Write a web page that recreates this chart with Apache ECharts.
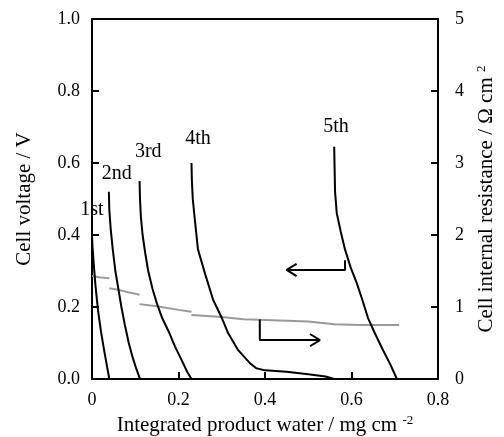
<!DOCTYPE html>
<html>
<head>
<meta charset="utf-8">
<script src="https://cdn.jsdelivr.net/npm/echarts@6/dist/echarts.min.js"></script>
<style>
  html, body { margin: 0; padding: 0; background: #fff; }
  #main { width: 504px; height: 437px; }
</style>
</head>
<body>
<div id="main"></div>
<script>
// 电压曲线 (x: mg cm-2, y: V)
var cycle1 = [[0, 0.40], [0.001, 0.37], [0.004, 0.32], [0.008, 0.26], [0.014, 0.19], [0.021, 0.13], [0.028, 0.08], [0.034, 0.04], [0.040, 0]];
var cycle2 = [[0.039, 0.52], [0.040, 0.47], [0.043, 0.42], [0.048, 0.36], [0.054, 0.30], [0.061, 0.25], [0.068, 0.20], [0.076, 0.15], [0.085, 0.10], [0.094, 0.06], [0.102, 0.03], [0.111, 0]];
var cycle3 = [[0.110, 0.55], [0.111, 0.50], [0.113, 0.45], [0.117, 0.40], [0.123, 0.35], [0.130, 0.30], [0.140, 0.25], [0.150, 0.21], [0.162, 0.17], [0.178, 0.13], [0.192, 0.09], [0.207, 0.053], [0.220, 0.02], [0.230, 0]];
var cycle4 = [[0.230, 0.60], [0.231, 0.55], [0.233, 0.50], [0.238, 0.44], [0.245, 0.36], [0.262, 0.29], [0.280, 0.22], [0.300, 0.17], [0.315, 0.127], [0.338, 0.08], [0.365, 0.044], [0.380, 0.03], [0.400, 0.024], [0.450, 0.02], [0.500, 0.013], [0.540, 0.007], [0.560, 0]];
var cycle5 = [[0.560, 0.645], [0.561, 0.58], [0.562, 0.52], [0.566, 0.46], [0.575, 0.41], [0.585, 0.36], [0.598, 0.31], [0.612, 0.267], [0.625, 0.22], [0.638, 0.17], [0.654, 0.127], [0.673, 0.08], [0.690, 0.04], [0.705, 0]];

// 内阻 (右轴, Ω cm2)，各段之间断开
var resistance = [
  [0, 1.43], [0.01, 1.42], [0.02, 1.41], [0.04, 1.40], null,
  [0.04, 1.26], [0.06, 1.24], [0.08, 1.21], [0.11, 1.17], null,
  [0.11, 1.04], [0.15, 1.01], [0.20, 0.96], [0.23, 0.935], null,
  [0.23, 0.89], [0.30, 0.86], [0.35, 0.83], [0.40, 0.82], [0.45, 0.81], [0.50, 0.80], [0.56, 0.76],
  [0.62, 0.75], [0.71, 0.75]
];

var cycleNames = ["1st", "2nd", "3rd", "4th", "5th"];
var cycleLabelPos = [[0, 0.47], [0.057, 0.57], [0.13, 0.63], [0.245, 0.667], [0.564, 0.70]];

// 箭头
var leftArrow = [[0.585, 0.33], [0.585, 0.303], [0.45, 0.303]];
var leftArrowHead = [[0.473, 0.32], [0.45, 0.303], [0.473, 0.286]];
var rightArrow = [[0.388, 0.165], [0.388, 0.108], [0.527, 0.108]];
var rightArrowHead = [[0.504, 0.125], [0.527, 0.108], [0.504, 0.091]];

var font = "Liberation Serif";
var myChart = echarts.init(document.getElementById("main"));

function blackLine(data) {
  return {
    type: "line",
    data: data,
    symbol: "none",
    animation: false,
    lineStyle: { color: "#000", width: 2 },
    z: 3
  };
}

var series = [];
[cycle1, cycle2, cycle3, cycle4, cycle5].forEach(function (c) {
  series.push(blackLine(c));
});
series.push({
  type: "line",
  yAxisIndex: 1,
  data: resistance,
  connectNulls: false,
  symbol: "none",
  animation: false,
  lineStyle: { color: "#999", width: 2 },
  z: 2
});
[leftArrow, leftArrowHead, rightArrow, rightArrowHead].forEach(function (a) {
  series.push(blackLine(a));
});
series.push({
  type: "scatter",
  symbolSize: 0,
  animation: false,
  itemStyle: { opacity: 1 },
  data: cycleLabelPos.map(function (p, i) {
    return { name: cycleNames[i], value: p };
  }),
  label: {
    show: true,
    position: "inside",
    formatter: "{b}",
    color: "#000",
    opacity: 1,
    fontFamily: font,
    fontSize: 20
  }
});

var axisLineStyle = { show: true, onZero: false, lineStyle: { color: "#000", width: 2 } };
var tickStyle = { show: true, inside: true, length: 7, lineStyle: { color: "#000", width: 2 } };

var option = {
  animation: false,
  grid: { left: 92, right: 66, top: 19, bottom: 58, outerBoundsMode: "none", containLabel: false },
  xAxis: [
    {
      type: "value",
      min: 0,
      max: 0.8,
      interval: 0.2,
      name: "{a|Integrated product water / mg cm }{s|-2}",
      nameLocation: "middle",
      nameGap: 32,
      nameTextStyle: {
        rich: {
          a: { fontFamily: font, fontSize: 21, color: "#000", lineHeight: 24 },
          s: { fontFamily: font, fontSize: 13, color: "#000", verticalAlign: "top", lineHeight: 24 }
        }
      },
      axisLine: axisLineStyle,
      axisTick: tickStyle,
      axisLabel: {
        color: "#000",
        fontFamily: font,
        fontSize: 18,
        margin: 12,
        formatter: function (v) { return v === 0 ? "0" : v.toFixed(1); }
      },
      splitLine: { show: false }
    },
    {
      type: "value",
      position: "top",
      min: 0,
      max: 0.8,
      axisLine: axisLineStyle,
      axisTick: { show: false },
      axisLabel: { show: false },
      splitLine: { show: false }
    }
  ],
  yAxis: [
    {
      type: "value",
      min: 0,
      max: 1,
      interval: 0.2,
      name: "Cell voltage / V",
      nameLocation: "middle",
      nameGap: 57,
      nameTextStyle: { fontFamily: font, fontSize: 21, color: "#000" },
      axisLine: axisLineStyle,
      axisTick: tickStyle,
      axisLabel: {
        color: "#000",
        fontFamily: font,
        fontSize: 18,
        margin: 12,
        formatter: function (v) { return v.toFixed(1); }
      },
      splitLine: { show: false }
    },
    {
      type: "value",
      position: "right",
      min: 0,
      max: 5,
      interval: 1,
      name: "{a|Cell internal resistance / Ω cm }{s|2}",
      nameLocation: "middle",
      nameGap: 36,
      nameRotate: 90,
      nameTextStyle: {
        rich: {
          a: { fontFamily: font, fontSize: 21, color: "#000", lineHeight: 24 },
          s: { fontFamily: font, fontSize: 13, color: "#000", verticalAlign: "top", lineHeight: 24 }
        }
      },
      axisLine: axisLineStyle,
      axisTick: tickStyle,
      axisLabel: { color: "#000", fontFamily: font, fontSize: 18, margin: 17 },
      splitLine: { show: false }
    }
  ],
  series: series
};

myChart.setOption(option);
</script>
</body>
</html>
